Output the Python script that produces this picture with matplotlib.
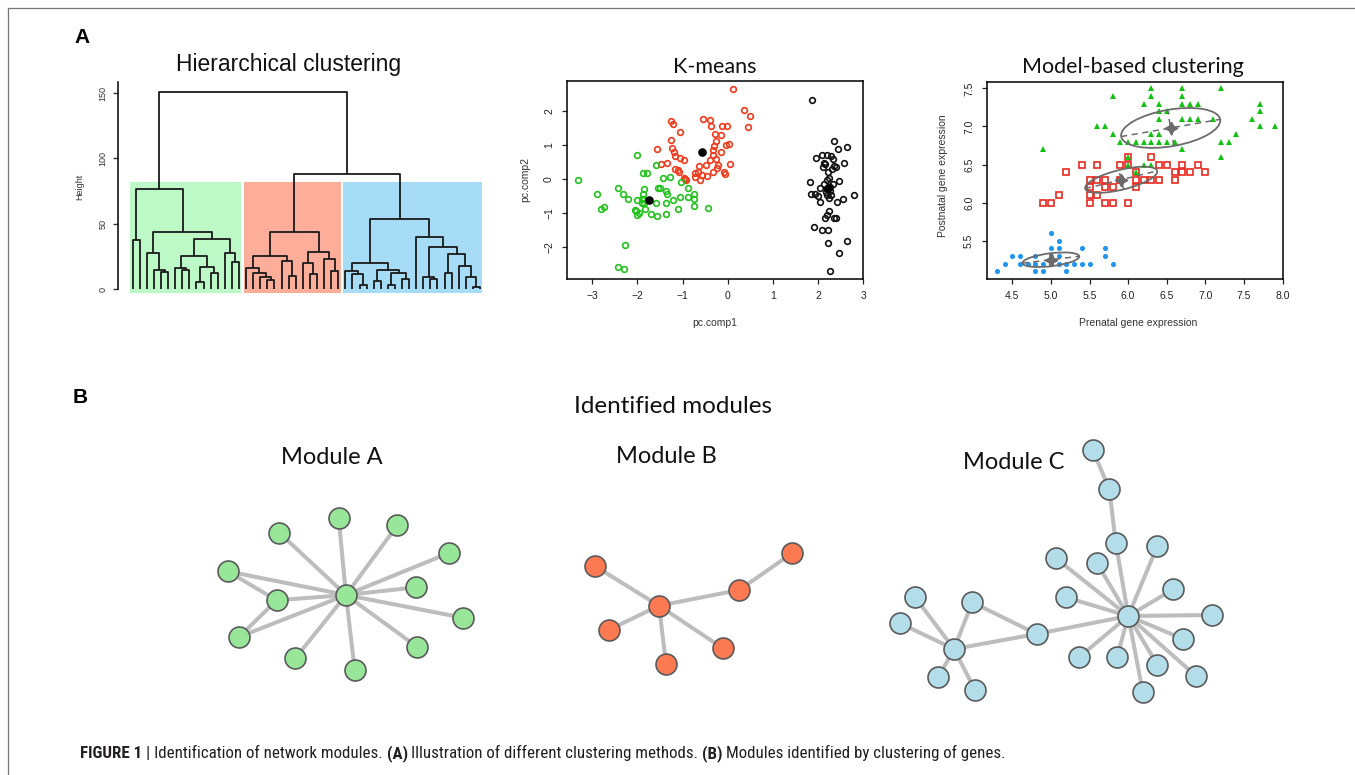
import numpy as np
import matplotlib
matplotlib.use('Agg')
import matplotlib.pyplot as plt
from matplotlib.patches import Ellipse, Rectangle
from matplotlib import font_manager

plt.rcParams['font.family'] = ['Liberation Sans', 'DejaVu Sans']

# ---------------- data ----------------
# dendrogram: node = (height, left, right); None = leaf
L = None
green_tree = (76.3, (37.6, L, L),
              (43.5, (27.5, L, (14.7, L, (13.5, L, L))),
               (38.4, (25.4, (16.0, L, (14.5, L, L)), (17.3, (5.8, L, L), (12.7, L, L))),
                (27.5, L, (20.6, L, L)))))
red_tree = (44.0, (25.7, (16.0, L, (12.2, L, (9.5, L, (7.1, L, L)))), (21.9, L, (10.5, L, L))),
            (28.2, (19.8, L, (11.7, L, L)), (23.1, L, (14.0, L, L))))
blue_tree = (53.4, (20.3, (14.2, L, (11.7, L, (3.3, L, L))),
                    (14.7, (6.4, L, L), (12.7, (3.3, L, L), (7.6, L, L)))),
             (40.2, L, (32.5, (9.7, L, (7.6, L, L)),
                        (27.0, (12.2, L, L), (17.8, L, (9.2, L, (1.5, L, L)))))))
full_tree = (151.0, green_tree, (88.0, red_tree, blue_tree))
cluster_trees = [green_tree, red_tree, blue_tree]
cluster_fill = ['#bdf9c7', '#fcae9b', '#a7dcf6']
dend_yticks = [0, 50, 100, 150]

# K-means (PCA scores)
km_red_x = [0.11, 0.36, 0.49, 0.45, -1.26, -1.22, -1.05, -0.56, -0.40, -0.37, -0.12, -0.02, -0.29, -0.16,
            -1.57, -1.25, -1.23, -1.20, -1.17, -1.06, -0.97, -1.48, -1.34, -1.18, -1.11, -1.08, -0.97, -0.93,
            -0.95, -0.72, -0.67, -0.63, -0.72, -0.62, -0.57, -0.46, -0.40, -0.33, -0.31, -0.33, -0.26, -0.16,
            -0.27, -0.23, -0.33, -0.48, -0.03, 0.03, 0.05, -0.09, -0.07, -0.22]
km_red_y = [2.65, 2.02, 1.85, 1.53, 1.71, 1.62, 1.38, 1.76, 1.75, 1.56, 1.56, 1.56, 1.33, 1.30,
            0.90, 1.15, 0.93, 0.80, 0.68, 0.63, 0.57, 0.44, 0.48, 0.31, 0.28, 0.22, 0.04, -0.01,
            0.02, 0.19, 0.22, 0.40, 0.07, -0.03, 0.14, 0.10, 0.58, 0.70, 0.99, 0.87, 1.12, 0.80,
            0.59, 0.32, 0.20, 0.41, 1.01, 1.04, 0.45, 0.20, 0.17, 0.42]
km_green_x = [-3.32, -2.90, -2.44, -2.31, -2.21, -2.80, -2.75, -2.02, -1.88, -1.79, -1.60, -1.86, -1.88,
              -1.90, -1.86, -1.85, -1.90, -2.02, -2.05, -2.03, -1.97, -2.00, -1.84, -1.71, -1.58, -1.57,
              -1.54, -1.51, -1.43, -1.36, -1.35, -1.36, -1.37, -1.22, -1.11, -1.03, -1.05, -0.88, -0.88,
              -0.74, -0.74, -0.75, -0.43, -2.27, -2.43, -2.30, -1.27]
km_green_y = [-0.02, -0.43, -0.26, -0.43, -0.57, -0.86, -0.81, 0.71, 0.18, 0.18, 0.42, -0.29, -0.42,
              -0.57, -0.58, -0.70, -0.70, -0.61, -0.89, -0.93, -1.00, -1.06, -0.88, -1.02, -0.69, -1.07,
              -0.26, -0.25, 0.04, -0.33, -0.44, -0.70, -1.02, -0.60, -0.87, -0.08, -0.53, -0.26, -0.52,
              -0.42, -0.59, -0.79, -0.85, -1.93, -2.57, -2.63, 0.07]
km_black_x = [1.87, 2.35, 2.44, 2.64, 2.08, 1.96, 2.20, 2.32, 2.12, 2.16, 2.57, 2.40, 2.36, 2.22, 1.83,
              2.20, 2.47, 2.05, 2.33, 2.20, 2.26, 1.84, 1.92, 1.99, 2.19, 2.29, 2.23, 2.05, 2.42, 2.55,
              2.79, 2.24, 2.19, 2.16, 2.35, 2.40, 1.91, 2.08, 2.22, 2.21, 2.63, 2.46, 2.27, 2.29, 2.13,
              2.10, 2.26, 2.31, 2.17, 2.23]
km_black_y = [2.34, 1.11, 0.90, 0.96, 0.71, 0.62, 0.72, 0.59, 0.48, 0.46, 0.48, 0.35, 0.39, 0.20, -0.09,
              -0.01, -0.04, -0.25, -0.15, -0.27, -0.24, -0.43, -0.42, -0.49, -0.47, -0.47, -0.54, -0.66,
              -0.66, -0.59, -0.46, -0.93, -1.04, -1.14, -1.13, -1.13, -1.40, -1.49, -1.49, -1.87, -1.80,
              -2.16, -2.69, 0.67, -0.13, 0.36, -0.35, 0.31, -0.38, 0.04]
km_center_x = [-1.74, -0.57, 2.22]
km_center_y = [-0.60, 0.81, -0.25]
km_xticks = [-3, -2, -1, 0, 1, 2, 3]
km_yticks = [-2, -1, 0, 1, 2]

# Model-based clustering
mb_blue_x = [4.3, 4.4, 4.5, 4.6, 4.6, 4.7, 4.8, 4.8, 4.8, 4.9, 4.9, 5.0, 5.0, 5.0, 5.0, 5.1, 5.1, 5.1,
             5.1, 5.2, 5.2, 5.3, 5.4, 5.4, 5.5, 5.7, 5.7, 5.8]
mb_blue_y = [5.1, 5.2, 5.3, 5.3, 5.2, 5.2, 5.3, 5.2, 5.1, 5.2, 5.1, 5.6, 5.4, 5.3, 5.2, 5.5, 5.4, 5.3,
             5.2, 5.2, 5.1, 5.2, 5.4, 5.2, 5.2, 5.4, 5.3, 5.2]
mb_red_x = [5.4, 5.6, 5.2, 5.1, 4.9, 5.0, 5.5, 5.6, 5.7, 5.5, 5.7, 5.8, 5.5, 5.6, 5.5, 5.7, 5.8, 6.0,
            5.9, 6.0, 6.0, 6.1, 6.1, 6.1, 6.2, 6.3, 6.3, 6.4, 6.4, 6.5, 6.6, 6.6, 6.7, 6.7, 6.8, 6.9,
            7.0, 5.9]
mb_red_y = [6.5, 6.5, 6.4, 6.1, 6.0, 6.0, 6.3, 6.3, 6.3, 6.2, 6.2, 6.2, 6.1, 6.1, 6.0, 6.0, 6.0, 6.0,
            6.5, 6.6, 6.5, 6.4, 6.3, 6.2, 6.3, 6.6, 6.3, 6.5, 6.3, 6.5, 6.4, 6.3, 6.5, 6.4, 6.4, 6.5,
            6.4, 6.3]
mb_green_x = [4.9, 5.8, 5.6, 5.7, 5.8, 5.9, 6.0, 6.0, 6.0, 6.1, 6.1, 6.2, 6.2, 6.2, 6.3, 6.3, 6.3, 6.3,
              6.3, 6.4, 6.4, 6.4, 6.4, 6.4, 6.5, 6.5, 6.7, 6.7, 6.7, 6.7, 6.7, 6.8, 6.8, 6.9, 6.9, 7.1,
              7.2, 7.2, 7.2, 7.3, 7.4, 7.6, 7.7, 7.7, 7.7, 7.9, 6.6]
mb_green_y = [6.7, 7.4, 7.0, 7.0, 6.9, 6.8, 6.8, 6.6, 6.5, 6.8, 6.4, 7.3, 6.8, 6.5, 7.5, 7.4, 6.9, 6.8,
              6.5, 7.3, 7.2, 7.1, 6.9, 6.8, 7.2, 6.8, 7.5, 7.4, 7.3, 7.1, 6.7, 7.3, 7.1, 7.3, 7.1, 7.1,
              7.5, 6.8, 6.6, 6.8, 6.9, 7.1, 7.3, 7.2, 7.0, 7.0, 6.8]
ell_cx = [6.55, 5.91, 5.00]
ell_cy = [6.98, 6.30, 5.25]
ell_a = [0.65, 0.48, 0.37]
ell_b = [0.24, 0.13, 0.085]
ell_ang = [10, 14, 7]
mb_xticks = [4.5, 5.0, 5.5, 6.0, 6.5, 7.0, 7.5, 8.0]
mb_yticks = [5.5, 6.0, 6.5, 7.0, 7.5]

# Networks (layout positions)
modA_x = [346, 338.7, 279.3, 397.3, 449, 227.7, 276.7, 416.3, 463, 239, 295.3, 354.7, 417.3]
modA_y = [595, 518.3, 532.7, 525.3, 553, 571.3, 600.3, 587.3, 617.7, 637, 658.3, 670.3, 647]
modA_edges = [(0, i) for i in range(1, 13)] + [(5, 6), (9, 6)]
modB_x = [659, 594.7, 608.7, 666, 723, 739.3, 792.3]
modB_y = [605.7, 566, 630, 664, 648.3, 590, 553]
modB_edges = [(0, 1), (0, 2), (0, 3), (0, 4), (0, 5), (5, 6)]
modC_x = [1128.3, 1092.7, 1109.3, 1115.7, 1056, 1096.7, 1157.3, 1173.3, 1066, 1212.3, 1183.3, 1079,
          1117, 1157.3, 1196, 1142.7, 1036.7, 972.3, 954, 914.7, 900, 938.3, 975]
modC_y = [616, 450, 489, 542.7, 558.3, 562.7, 546, 589.3, 597.3, 615, 639, 657.3, 657.3, 664.7, 676,
          691.7, 634, 602.3, 649, 596.7, 623.3, 677.3, 690]
modC_edges = [(1, 2), (2, 3), (3, 0), (4, 0), (5, 0), (6, 0), (7, 0), (8, 0), (9, 0), (10, 0), (11, 0),
              (12, 0), (13, 0), (14, 0), (15, 0), (16, 0), (16, 17), (16, 18), (18, 17), (18, 19),
              (18, 20), (18, 21), (18, 22)]
module_names = ['Module A', 'Module B', 'Module C']
module_fill = ['#98e69a', '#fc7a52', '#b3dde8']

caption_parts = [("FIGURE 1", "bold"), ("| Identification of network modules.", "normal"),
                 ("(A)", "bold"), ("Illustration of different clustering methods.", "normal"),
                 ("(B)", "bold"), ("Modules identified by clustering of genes.", "normal")]

# ---------------- figure ----------------
W, H = 1355, 775
fig = plt.figure(figsize=(W / 100, H / 100), dpi=100)
fig.patch.set_facecolor('white')


def px_axes(x0, y0, x1, y1):
    return fig.add_axes([x0 / W, 1 - y1 / H, (x1 - x0) / W, (y1 - y0) / H])


TITLE_FONT = ['Lato', 'DejaVu Sans']

# ---- dendrogram ----
axd = px_axes(118, 81.7, 494.7, 292.7)
ylo = -2.6
axd.set_xlim(-1.07, 52.07)
axd.set_ylim(ylo, 158.7)
segs = []
heights = []
counter = [0]


def walk(node):
    if node is None:
        counter[0] += 1
        return float(counter[0]), 0.0
    h, l, r = node
    xl, hl = walk(l)
    xr, hr = walk(r)
    segs.append(([xl, xl, xr, xr], [hl, h, h, hr]))
    heights.append(h)
    return (xl + xr) / 2, h


walk(full_tree)


def nleaves(node):
    return 1 if node is None else nleaves(node[1]) + nleaves(node[2])


hs = sorted(heights, reverse=True)
rect_top = (hs[1] + hs[2]) / 2
cum = 0
for tr, col in zip(cluster_trees, cluster_fill):
    n = nleaves(tr)
    axd.add_patch(Rectangle((cum + 0.66, ylo), n - 0.33, rect_top - ylo, facecolor=col,
                            edgecolor='none', zorder=1))
    cum += n
for xs, ys in segs:
    axd.plot(xs, ys, color='#1a1a1a', lw=1.3, zorder=3, solid_capstyle='butt')
for s in ['top', 'right', 'bottom']:
    axd.spines[s].set_visible(False)
axd.spines['left'].set_bounds(0, 158.7)
axd.spines['left'].set_linewidth(1.1)
axd.set_xticks([])
axd.set_yticks(dend_yticks)
axd.set_yticklabels([str(v) for v in dend_yticks], rotation=90, va='center')
axd.tick_params(axis='y', length=3.6, width=1.0, labelsize=6.5, pad=4, colors='#333333')
axd.patch.set_alpha(0)

# ---- K-means ----
axk = px_axes(566.7, 81, 863.3, 278.7)
axk.set_xlim(-3.567, 3.0)
axk.set_ylim(-2.917, 2.885)
mk = dict(marker='o', linestyle='none', markersize=4.1, markerfacecolor='none', markeredgewidth=1.2)
axk.plot(km_black_x, km_black_y, color='#111111', **mk)
axk.plot(km_red_x, km_red_y, color='#f03a1c', **mk)
axk.plot(km_green_x, km_green_y, color='#22c21c', **mk)
axk.plot(km_center_x, km_center_y, 'o', color='black', markersize=5.2)
axk.set_xticks(km_xticks)
axk.set_yticks(km_yticks)
axk.set_yticklabels([('\u2212' if v < 0 else '') + str(abs(v)) for v in km_yticks], rotation=90, va='center')
axk.set_xticklabels([('\u2212' if v < 0 else '') + str(abs(v)) for v in km_xticks])

# ---- Model-based ----
axm = px_axes(986.7, 81.7, 1282.7, 278.7)
axm.set_xlim(4.169, 8.0)
axm.set_ylim(5.001, 7.587)
axm.plot(mb_blue_x, mb_blue_y, 'o', color='#2196ee', markersize=3.7, markeredgewidth=0)
axm.plot(mb_red_x, mb_red_y, 's', color='#e8281e', markersize=3.9, markerfacecolor='none', markeredgewidth=1.2)
axm.plot(mb_green_x, mb_green_y, '^', color='#11c211', markersize=4.9, markeredgewidth=0)
for cx, cy, a, b, ang in zip(ell_cx, ell_cy, ell_a, ell_b, ell_ang):
    axm.add_patch(Ellipse((cx, cy), 2 * a, 2 * b, angle=ang, facecolor='none', edgecolor='#6b6b6b', lw=1.3, zorder=4))
    t = np.deg2rad(ang)
    axm.plot([cx - a * np.cos(t), cx + a * np.cos(t)], [cy - a * np.sin(t), cy + a * np.sin(t)],
             color='#6b6b6b', lw=1.1, dashes=(4, 3), zorder=4)
    axm.plot([cx + b * np.sin(t), cx - b * np.sin(t)], [cy - b * np.cos(t), cy + b * np.cos(t)],
             color='#6b6b6b', lw=1.1, dashes=(4, 3), zorder=4)
    axm.plot([cx], [cy], marker=(4, 1, 0), color='#6b6b6b', markersize=9, zorder=5)
axm.set_xticks(mb_xticks)
axm.set_xticklabels(['%.1f' % v for v in mb_xticks])
axm.set_yticks(mb_yticks)
axm.set_yticklabels(['%.1f' % v for v in mb_yticks], rotation=90, va='center')

for ax in (axk, axm):
    for s in ax.spines.values():
        s.set_linewidth(1.1)
    ax.tick_params(length=3.6, width=0.9, labelsize=7.5, pad=5.5, colors='#222222')

# ---- overlay (pixel coordinates) ----
axo = fig.add_axes([0, 0, 1, 1])
axo.set_xlim(0, W)
axo.set_ylim(H, 0)
axo.axis('off')
axo.plot([8, W], [8, 8], color='#777777', lw=0.9)
axo.plot([8, 8], [8, H], color='#777777', lw=0.9)

axo.text(74, 43, 'A', fontsize=15, fontweight='bold', ha='left', va='baseline')
axo.text(73, 403, 'B', fontsize=15, fontweight='bold', ha='left', va='baseline')
axo.text(289, 70.5, 'Hierarchical clustering', fontsize=16.5, ha='center', va='baseline', color='#111111')
axo.text(715, 72.7, 'K-means', fontsize=15.5, ha='center', va='baseline', family=TITLE_FONT, color='#111111')
axo.text(1133, 72.7, 'Model-based clustering', fontsize=15.5, ha='center', va='baseline', family=TITLE_FONT,
         color='#111111')
axo.text(80, 187, 'Height', fontsize=6.5, rotation=90, ha='center', va='center', color='#333333')
axo.text(715, 323, 'pc.comp1', fontsize=7.5, ha='center', va='center', color='#333333')
axo.text(525, 180, 'pc.comp2', fontsize=7.5, rotation=90, ha='center', va='center', color='#333333')
axo.text(1138, 323, 'Prenatal gene expression', fontsize=7.5, ha='center', va='center', color='#333333')
axo.text(943, 176, 'Postnatal gene expression', fontsize=7.5, rotation=90, ha='center', va='center',
         color='#333333')

axo.text(673, 413.3, 'Identified modules', fontsize=17.5, ha='center', va='baseline', family=TITLE_FONT,
         color='#111111')
for name, (tx, ty) in zip(module_names, [(332, 463.5), (666.7, 463.3), (1013.8, 469.3)]):
    axo.text(tx, ty, name, fontsize=17, ha='center', va='baseline', family=TITLE_FONT, color='#111111')

for xs, ys, edges, col in [(modA_x, modA_y, modA_edges, module_fill[0]),
                           (modB_x, modB_y, modB_edges, module_fill[1]),
                           (modC_x, modC_y, modC_edges, module_fill[2])]:
    for i, j in edges:
        axo.plot([xs[i], xs[j]], [ys[i], ys[j]], color='#bdbdbd', lw=2.9, zorder=2, solid_capstyle='butt')
    axo.scatter(xs, ys, s=228, facecolor=col, edgecolor='#5a5a5a', linewidths=1.2, zorder=3)

# ---- caption ----
names = {f.name for f in font_manager.fontManager.ttflist}
cap_font = 'Liberation Sans'
for cand in ['Liberation Sans Narrow', 'Roboto Condensed', 'Open Sans Condensed', 'Arial Narrow',
             'Nimbus Sans Narrow']:
    if cand in names:
        cap_font = cand
        break
renderer = fig.canvas.get_renderer()


def measure(s, weight, size):
    t = axo.text(0, 0, s, fontsize=size, fontweight=weight, family=cap_font)
    w = t.get_window_extent(renderer).width
    t.remove()
    return w


base = 11.0
space_w = measure('a a', 'normal', base) - measure('aa', 'normal', base)
widths = [measure(p, wt, base) for p, wt in caption_parts]
total = sum(widths) + space_w * (len(caption_parts) - 1)
scale = 925.0 / total
size = base * scale
x = 80.0
for (p, wt), w in zip(caption_parts, widths):
    axo.text(x, 758.3, p, fontsize=size, fontweight=wt, family=cap_font, ha='left', va='baseline',
             color='#231f20')
    x += (w + space_w) * scale

fig.savefig('out.png', dpi=100, facecolor='white')
